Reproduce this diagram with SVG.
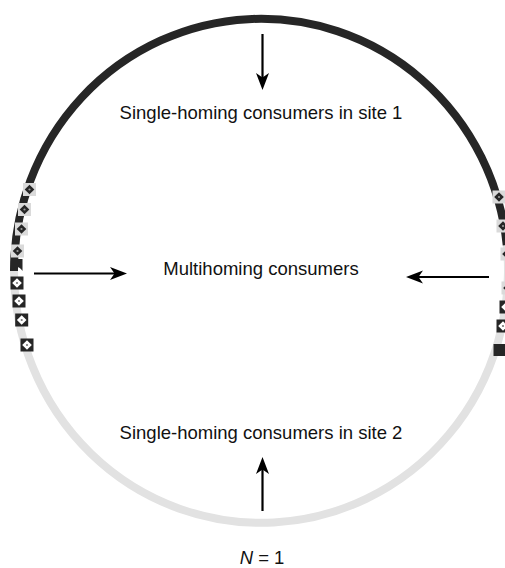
<svg xmlns="http://www.w3.org/2000/svg" width="505" height="568" viewBox="0 0 505 568">
  <defs>
    <style>
      .lbl { font-family: "Liberation Sans", Arial, Helvetica, sans-serif; font-size: 18.5px; fill: #111; text-anchor: middle; }
      .ring-dark { fill: none; stroke: #262626; stroke-width: 8; }
      .ring-light { fill: none; stroke: #e2e2e2; stroke-width: 8; }
      .conn { stroke: #000; stroke-width: 2.2; fill: none; marker-end: url(#arrow); }
      .sq-light { fill: #dadada; }
      .sq-dark { fill: #262626; }
      .dm-dark { fill: #262626; }
      .dm-light { fill: #ffffff; }
    </style>
    <marker id="arrow" viewBox="0 -7 18 14" refX="7" refY="0" markerWidth="18" markerHeight="14" markerUnits="userSpaceOnUse" orient="auto">
      <path d="M0,-6.5 L17,0 L0,6.5 L4.5,0 Z" fill="#000"/>
    </marker>
    <g id="mk-light">
      <rect x="-6.5" y="-6.5" width="13" height="13" class="sq-light"/>
      <path d="M0,-4.8 L4.8,0 L0,4.8 L-4.8,0 Z" class="dm-dark"/>
      <circle r="1.1" fill="#9a9a9a"/>
    </g>
    <g id="mk-dark">
      <rect x="-6.5" y="-6.5" width="13" height="13" class="sq-dark"/>
      <path d="M0,-4.8 L4.8,0 L0,4.8 L-4.8,0 Z" class="dm-light"/>
      <circle r="1.1" fill="#777"/>
    </g>
  </defs>

  <rect width="505" height="568" fill="#fff"/>

  <g id="ring">
    <path class="ring-light" d="M 506.7 245 A 247 252 0 1 1 14 271"/>
    <path class="ring-dark" d="M 14 271 A 247 252 0 0 1 506.7 245"/>
  </g>

  <g id="markers-left">
    <use href="#mk-light" x="29.5" y="189.5"/>
    <use href="#mk-light" x="24.5" y="209.5"/>
    <use href="#mk-light" x="21.5" y="229"/>
    <use href="#mk-light" x="17.5" y="251"/>
    <path d="M11.5,259 L22.5,259 L22.5,271 Q17,263 11.5,271 Z" fill="#262626"/>
    <use href="#mk-dark" x="17" y="283"/>
    <use href="#mk-dark" x="19" y="301"/>
    <use href="#mk-dark" x="21.7" y="320"/>
    <use href="#mk-dark" x="27" y="345"/>
  </g>

  <g id="markers-right">
    <use href="#mk-light" x="499" y="197"/>
    <use href="#mk-light" x="503" y="226"/>
    <use href="#mk-light" x="507" y="254"/>
    <use href="#mk-light" x="508" y="288"/>
    <use href="#mk-dark" x="506" y="307"/>
    <use href="#mk-dark" x="503" y="326"/>
    <rect x="493.5" y="344" width="13" height="12" class="sq-dark"/>
  </g>

  <g id="connectors">
    <line class="conn" x1="262.5" y1="34" x2="262.5" y2="80"/>
    <line class="conn" x1="34" y1="273.5" x2="117" y2="273.5"/>
    <line class="conn" x1="489" y1="277" x2="416" y2="277"/>
    <line class="conn" x1="262.5" y1="511" x2="262.5" y2="467"/>
  </g>

  <g id="node-site1">
    <text class="lbl" x="261" y="119">Single-homing consumers in site 1</text>
  </g>
  <g id="node-multihoming">
    <text class="lbl" x="261" y="275">Multihoming consumers</text>
  </g>
  <g id="node-site2">
    <text class="lbl" x="261" y="439">Single-homing consumers in site 2</text>
  </g>
  <g id="node-n">
    <text class="lbl" x="262" y="564"><tspan font-style="italic">N</tspan> = 1</text>
  </g>
</svg>
